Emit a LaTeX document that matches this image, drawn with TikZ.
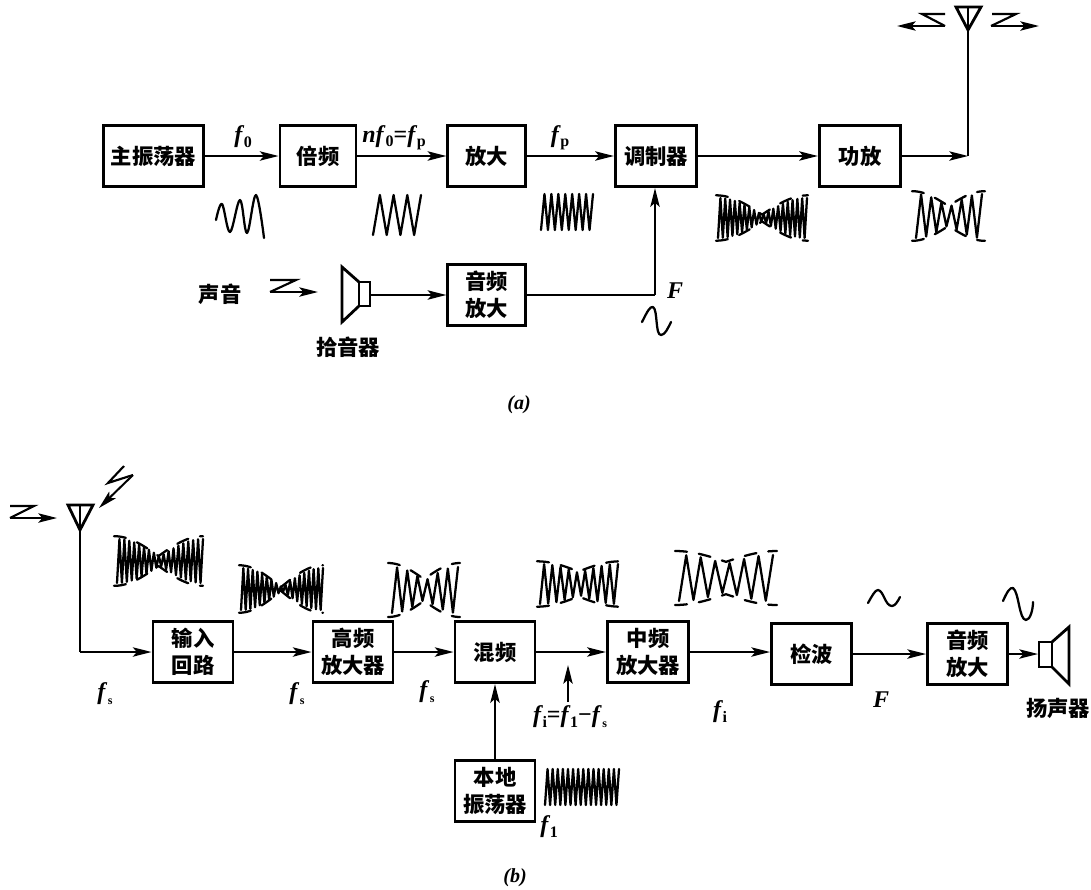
\documentclass[tikz,border=0pt]{standalone}
\usepackage{fontspec}
\setmainfont{Liberation Serif}
\newfontfamily\cjk{Noto Sans CJK SC}
\usetikzlibrary{arrows.meta}
\newcommand\subf[2]{\raisebox{-.4ex}{\fontsize{#1}{#1}\selectfont\textbf{#2}}}
\newcommand\ff[1]{\textbf{\textit{f}}\kern-.02em\subf{12}{#1}}
\newcommand\fs{\textbf{\textit{f}}\kern.02em\subf{9}{s}}
% zigzag wave: x0, centre y, width, height, half periods, min envelope
\newcommand\zigwave[6]{\draw[wave] plot[samples at={0,...,#5}] ({#1+#3*\x/#5},{#2+0.5*#4*cos(180*\x)*(#6+(1-#6)*abs(cos(180*\x/#5)))});}
% dashed envelope of a wave
\newcommand\envwave[5]{\draw[wave,dash pattern=on 9pt off 9pt] plot[domain=0:1,samples=41,smooth] ({#1+#3*\x},{#2-0.54*#4*(#5+(1-#5)*abs(cos(180*\x)))});
\draw[wave,dash pattern=on 9pt off 9pt] plot[domain=0:1,samples=41,smooth] ({#1+#3*\x},{#2+0.54*#4*(#5+(1-#5)*abs(cos(180*\x)))});}
\tikzset{
  x=0.75pt,y=-0.75pt,
  blockbox/.style={draw,line width=2.2pt,minimum width=60pt,minimum height=46pt,inner sep=0pt,align=center,font=\cjk\bfseries\fontsize{16}{20}\selectfont},
  captext/.style={inner sep=0pt,font=\cjk\bfseries\fontsize{16}{20}\selectfont},
  sym/.style={inner sep=0pt,font=\fontsize{18}{20}\selectfont},
  figlabel/.style={inner sep=0pt,font=\fontsize{15}{18}\selectfont},
  conn/.style={line width=1.5pt,-{Stealth[length=14pt,width=7pt,inset=3pt]}},
  plain/.style={line width=1.5pt},
  thick line/.style={line width=2.1pt,line join=miter},
  wave/.style={line width=1.7pt,line join=round,line cap=round},
}
\begin{document}
\begin{tikzpicture}
\useasboundingbox (0,0) rectangle (1091,889);
% ---------- part a
\node[blockbox,minimum width=75pt] (osc) at (153.5,156) {主振荡器};
\node[blockbox,minimum width=57pt] (mul) at (318,156) {倍频};
\node[blockbox,minimum width=58pt] (amp) at (486.5,156) {放大};
\node[blockbox,minimum width=61pt] (mod) at (656,156) {调制器};
\node[blockbox,minimum width=61pt] (pa) at (860,156) {功放};
\node[blockbox,minimum width=58pt] (aud) at (486.5,295) {音频\\放大};
\coordinate (anta) at (968,30);
\coordinate (corner) at (968,156);
\coordinate (join) at (655,295);
\coordinate (mic) at (371,295);
\draw[conn] (osc) -- (mul);
\draw[conn] (mul) -- (amp);
\draw[conn] (amp) -- (mod);
\draw[conn] (mod) -- (pa);
\draw[conn] (pa) -- (corner);
\draw[thick line] (corner) -- (anta);
\draw[thick line] (956,7) -- (981,7) -- (anta) -- cycle;
\draw[line width=1.5pt] (968,7) -- (968,30);
\draw[conn] (mic) -- (aud);
\draw[plain] (aud) -- (join);
\draw[conn] (join) -- (join |- mod.south);
% microphone
\draw[thick line] (359,282) rectangle (370,306);
\draw[thick line] (359,282) -- (342,267) -- (342,322) -- (359,306);
% radio Z arrows
\coordinate (zla) at (945,26);\coordinate (tla) at (897,26);
\coordinate (zra) at (991,26);\coordinate (tra) at (1039,26);
\coordinate (zsa) at (270,292);\coordinate (tsa) at (318,292);
\draw[line width=1.6pt] (945,14) -- (922,14) -- (zla);
\draw[conn] (zla) -- (tla);
\draw[line width=1.6pt] (992,14) -- (1016,14) -- (zra);
\draw[conn] (zra) -- (tra);
\draw[line width=1.6pt] (270,280) -- (296,280) -- (zsa);
\draw[conn] (zsa) -- (tsa);
% labels a
\node[sym] at (243,137) {\ff{0}};
\node[sym] at (394,138) {\textbf{\textit{nf}}\subf{12}{0}\textbf{=}\ff{p}};
\node[sym] at (560,138) {\ff{p}};
\node[sym] at (675,291) {\textbf{\textit{F}}};
\node[captext] at (220,294) {声音};
\node[captext] at (348,347) {拾音器};
\node[figlabel] at (519,405) {\textbf{\textit{(a)}}};
% waves a
\draw[wave] plot[smooth,tension=.6] coordinates {(216,220)(222,204)(230,232)(240,200)(247,233)(256,195)(264,238)};
\zigwave{373}{215}{48}{40}{7}{1}
\zigwave{541}{212}{52}{36}{15}{1}
\zigwave{718}{218}{89}{40}{37}{.15}
\envwave{716}{218}{92}{42}{.15}
\zigwave{916}{216}{66}{44}{13}{.4}
\envwave{912}{216}{73}{46}{.4}
\draw[wave] (642,322) .. controls (647,312) and (650,306) .. (653,307) .. controls (658,310) and (655,335) .. (661,335) .. controls (665,335) and (668,328) .. (671,322);
% ---------- part b
\node[blockbox] (inp) at (193,652) {输入\\回路};
\node[blockbox] (rf) at (353,652) {高频\\放大器};
\node[blockbox] (mix) at (495,652) {混频};
\node[blockbox,minimum width=61pt] (if) at (648,652) {中频\\放大器};
\node[blockbox] (det) at (811.5,654) {检波};
\node[blockbox] (aud2) at (967.5,654) {音频\\放大};
\node[blockbox] (lo) at (495,791) {本地\\振荡器};
\coordinate (antb) at (80,530);
\coordinate (cornerb) at (80,652);
\coordinate (spk) at (1038,654);
\draw[thick line] (antb) -- (cornerb);
\draw[thick line] (68,505) -- (93,505) -- (antb) -- cycle;
\draw[line width=1.5pt] (80,505) -- (80,530);
\draw[conn] (cornerb) -- (inp.west |- cornerb);
\draw[conn] (inp) -- (rf);
\draw[conn] (rf) -- (mix);
\draw[conn] (mix) -- (if);
\draw[conn] (if) -- (det.west |- if);
\draw[conn] (det) -- (aud2);
\draw[conn] (aud2) -- (spk);
\draw[conn] (lo) -- (mix);
\coordinate (fib) at (568,702);\coordinate (fit) at (568,665);
\draw[conn] (fib) -- (fit);
% speaker
\draw[thick line] (1039,642) rectangle (1052,667);
\draw[thick line] (1052,642) -- (1069,627) -- (1069,684) -- (1052,667);
% radio Z + lightning
\coordinate (zsb) at (10,518);\coordinate (tsb) at (57,518);
\draw[line width=1.6pt] (10,506) -- (34,506) -- (zsb);
\draw[conn] (zsb) -- (tsb);
\coordinate (lt) at (99,508);\coordinate (ls) at (133,475);
\draw[line width=1.6pt] (124,466) -- (108,483) -- (ls);
\draw[conn] (ls) -- (lt);
% labels b
\node[sym] at (105,694) {\fs};
\node[sym] at (297,694) {\fs};
\node[sym] at (427,692) {\fs};
\node[sym] at (720,712) {\ff{i}};
\node[sym] at (570,717) {\ff{i}\textbf{=}\ff{1}\textbf{−}\fs};
\node[sym] at (549,827) {\ff{1}};
\node[sym] at (881,700) {\textbf{\textit{F}}};
\node[captext] at (1058,708) {扬声器};
\node[figlabel] at (515,878) {\textbf{\textit{(b)}}};
% waves b
\zigwave{117}{561}{86}{44}{35}{.2}
\envwave{114}{561}{89}{46}{.2}
\zigwave{241}{589}{82}{42}{35}{.08}
\envwave{239}{589}{84}{44}{.08}
\zigwave{392}{590}{66}{46}{13}{.4}
\envwave{388}{590}{72}{50}{.4}
\zigwave{540}{584}{78}{40}{19}{.55}
\envwave{537}{584}{83}{42}{.55}
\zigwave{679}{578}{94}{46}{13}{.6}
\envwave{675}{578}{102}{50}{.6}
\zigwave{545}{787}{74}{36}{29}{1}
\draw[wave] (868,603) .. controls (872,596) and (875,590) .. (878,590) .. controls (884,591) and (885,606) .. (892,606) .. controls (895,606) and (898,601) .. (900,597);
\draw[wave] (1003,601) .. controls (1007,592) and (1010,587) .. (1013,588) .. controls (1019,592) and (1019,620) .. (1026,620) .. controls (1030,620) and (1033,610) .. (1033,602);
\end{tikzpicture}
\end{document}
